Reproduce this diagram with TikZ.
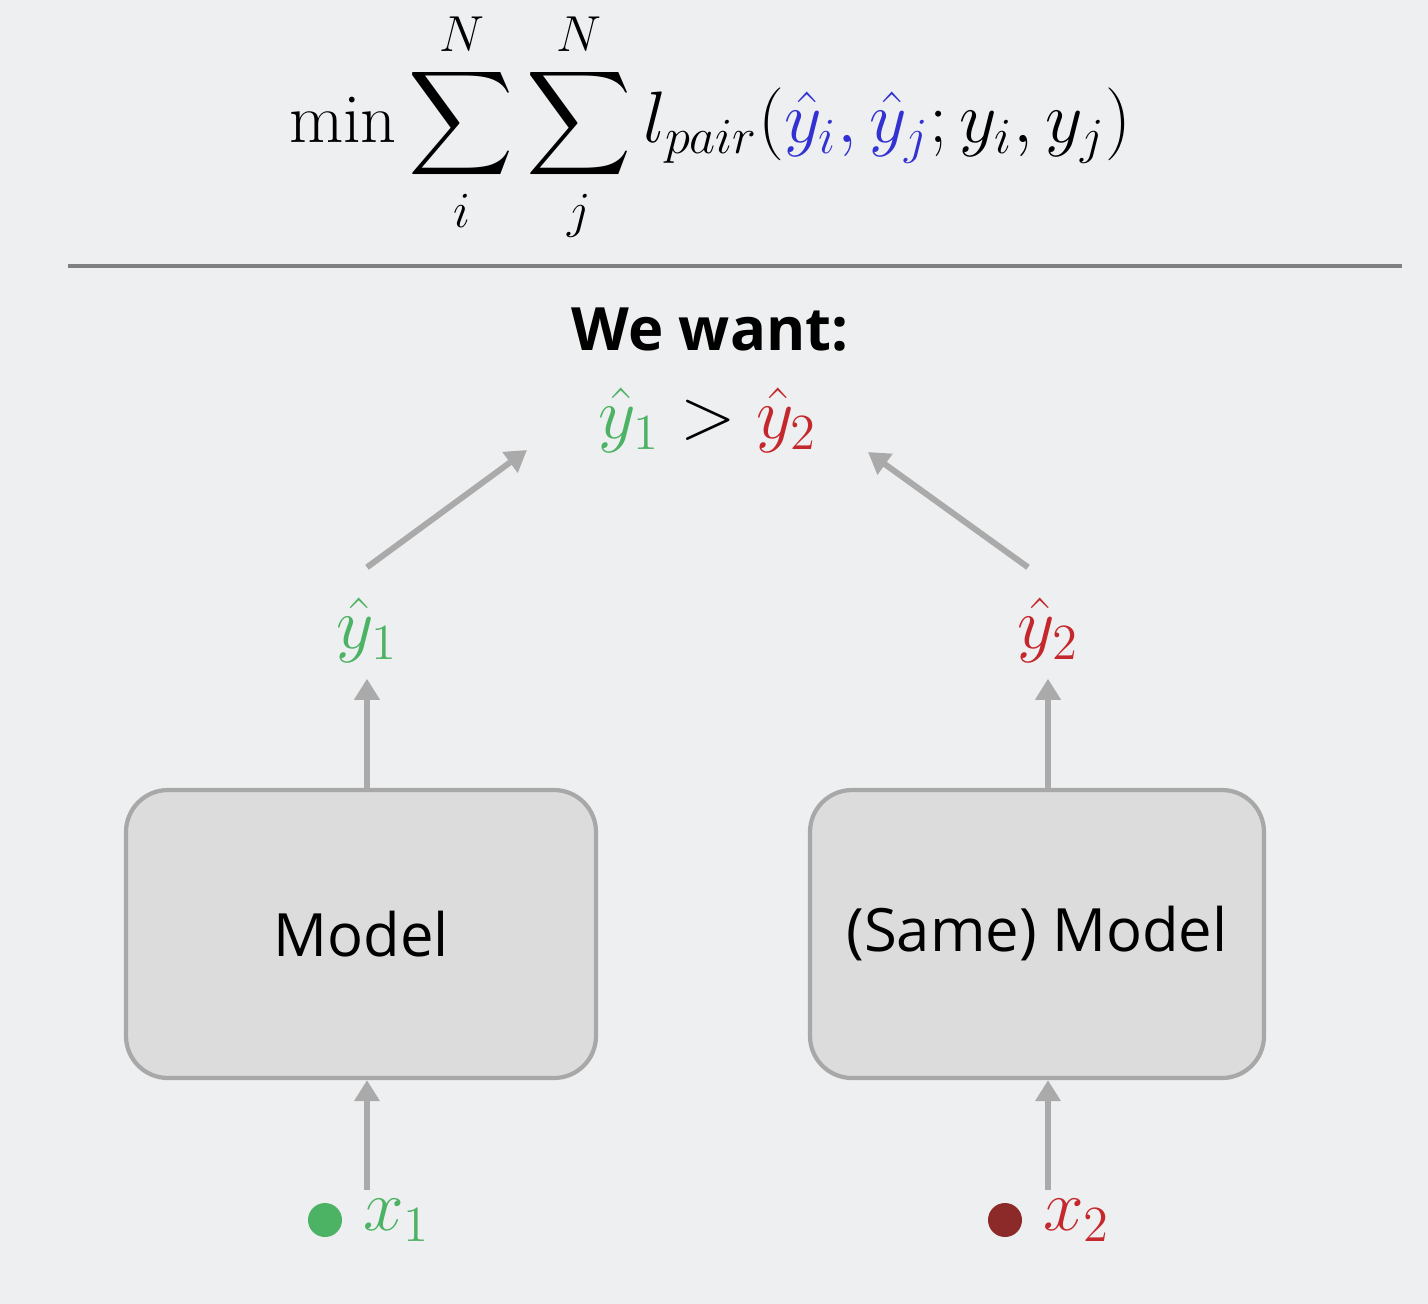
\documentclass[tikz,border=0pt]{standalone}
\usepackage{amsmath}
\usepackage{fontspec}
\setsansfont{Open Sans}
\usetikzlibrary{arrows.meta,positioning,calc}

\definecolor{bggray}{RGB}{238,239,240}
\definecolor{arrgray}{RGB}{170,170,170}
\definecolor{boxfill}{RGB}{220,220,220}
\definecolor{boxline}{RGB}{168,168,168}
\definecolor{posgreen}{RGB}{76,178,100}
\definecolor{negred}{RGB}{196,40,45}
\definecolor{dotred}{RGB}{140,42,42}
\definecolor{predblue}{RGB}{50,50,210}

\tikzset{
  arr/.style = {draw=arrgray, line width=1.7pt, -{Triangle[length=6pt, width=7pt]}},
  modelbox/.style = {draw=boxline, fill=boxfill, line width=1.2pt, rounded corners=0.42cm,
                     minimum height=2.88cm, font=\sffamily\fontsize{17}{21}\selectfont},
  lbl/.style = {inner sep=0pt, minimum height=0.96cm, font=\fontsize{21}{25}\selectfont},
  dot/.style = {circle, inner sep=0pt, minimum size=0.34cm},
}

\begin{document}
\begin{tikzpicture}
        % background
        \fill[bggray] (0,0) rectangle (14.28,-13.04);
        \useasboundingbox (0,0) rectangle (14.28,-13.04);

        % objective
        \node (obj) at (7.10,-1.27) {\fontsize{20}{24}\selectfont
          $\displaystyle \min\sum_{i}^{N}\sum_{j}^{N} l_{pair}(\textcolor{predblue}{\hat{y}_i,\hat{y}_j};y_i,y_j)$};
        \draw[gray, line width=1pt] (0.68,-2.66) -- (14.02,-2.66);

        % target ordering
        \node (want) at (7.10,-3.30) {\sffamily\bfseries\fontsize{17}{21}\selectfont We want:};
        \node (cmp) at (7.08,-4.20) {\fontsize{21}{25}\selectfont
          $\textcolor{posgreen}{\hat{y}_1} > \textcolor{negred}{\hat{y}_2}$};
        \coordinate (gtL) at (5.27,-4.50);
        \coordinate (gtR) at (8.68,-4.52);

        % predictions
        \node[lbl, text=posgreen] (y1) at (3.67,-6.30) {$\hat{y}_1$};
        \node[lbl, text=negred] (y2) at (10.48,-6.30) {$\hat{y}_2$};

        % models
        \node[modelbox, minimum width=4.70cm] (m1) at (3.61,-9.34) {Model};
        \node[modelbox, minimum width=4.54cm] (m2) at (10.37,-9.34) {(Same) Model};

        % inputs
        \node[dot, fill=posgreen] (d1) at (3.25,-12.20) {};
        \node[lbl, text=posgreen, right=0.2cm of d1] (x1) {$x_1$};
        \node[dot, fill=dotred] (d2) at (10.05,-12.20) {};
        \node[lbl, text=negred, right=0.2cm of d2] (x2) {$x_2$};
        \coordinate (in1) at (3.67,-11.90);
        \coordinate (in2) at (10.48,-11.90);

        % arrows
        \draw[arr] (in1) -- (in1 |- m1.south);
        \draw[arr] (in2) -- (in2 |- m2.south);
        \draw[arr] (y1 |- m1.north) -- (y1.south);
        \draw[arr] (y2 |- m2.north) -- (y2.south);
        \draw[arr] ([yshift=0.14cm]y1.north) -- (gtL);
        \draw[arr] ([xshift=-0.2cm,yshift=0.14cm]y2.north) -- (gtR);
\end{tikzpicture}
\end{document}
